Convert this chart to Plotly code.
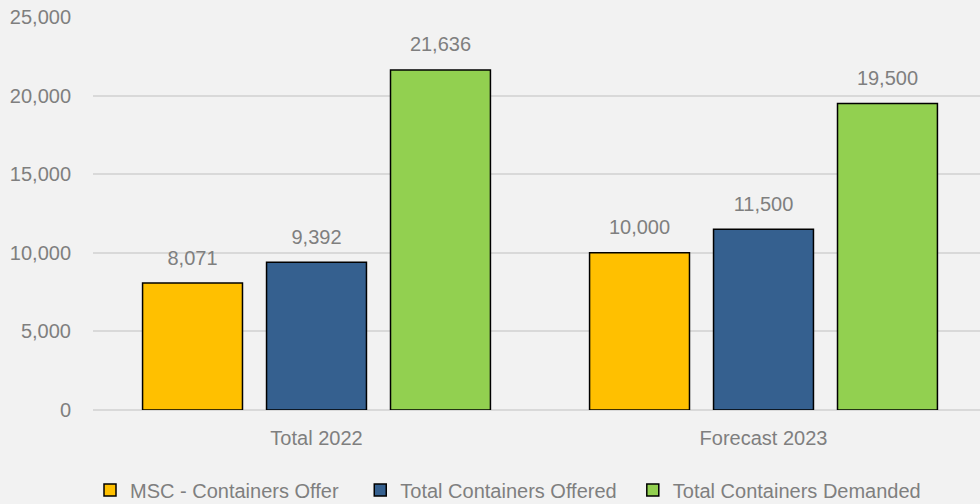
import plotly.graph_objects as go

categories = ["Total 2022", "Forecast 2023"]
series_names = ["MSC - Containers Offer", "Total Containers Offered", "Total Containers Demanded"]
msc_offer = [8071, 10000]
total_offered = [9392, 11500]
total_demanded = [21636, 19500]
colors = ["#FFC000", "#35608F", "#92D050"]

FONT = "Liberation Sans Narrow, Arial Narrow, Liberation Sans, Arial, sans-serif"
GRAY = "#7F7F7F"
PADS = ["\u00a0" * 3, "\u00a0" * 2, ""]

fig = go.Figure()
for i, (name, vals, col) in enumerate(zip(series_names, [msc_offer, total_offered, total_demanded], colors)):
    fig.add_trace(go.Bar(
        x=categories, y=vals, name=name + PADS[i], offsetgroup=str(i),
        marker=dict(color=col, line=dict(color="#000000", width=1.5)),
        hoverinfo="skip",
    ))
for i, vals in enumerate([msc_offer, total_offered, total_demanded]):
    fig.add_trace(go.Scatter(
        x=categories, y=vals, offsetgroup=str(i), mode="markers+text",
        marker=dict(size=20, opacity=0), text=[f"{v:,}" for v in vals],
        textposition="top center", textfont=dict(family=FONT, size=20, color=GRAY),
        showlegend=False, cliponaxis=False, hoverinfo="skip",
    ))

W = 987
fig.update_layout(
    width=W, height=504,
    paper_bgcolor="#F2F2F2", plot_bgcolor="#F2F2F2",
    margin=dict(l=93, r=0, t=17, b=94),
    barmode="group", bargap=0.168, bargroupgap=0.194,
    scattermode="group", scattergap=0.168,
    font=dict(family=FONT, size=20, color=GRAY),
    showlegend=True,
    legend=dict(orientation="h", xref="container", yref="container",
                x=90 / W, xanchor="left", y=0.028, yanchor="middle",
                font=dict(family=FONT, size=20, color=GRAY), itemwidth=30,
                traceorder="normal"),
    yaxis=dict(range=[0, 25000], dtick=5000, tickformat=",", showgrid=True,
               gridcolor="#D9D9D9", gridwidth=1.5, zeroline=True, zerolinecolor="#D9D9D9",
               zerolinewidth=1.5, ticks="", ticklabelstandoff=21, automargin=False,
               tickfont=dict(family=FONT, size=20, color=GRAY)),
    xaxis=dict(showline=False, ticks="", automargin=False, ticklabelstandoff=14,
               tickfont=dict(family=FONT, size=20, color=GRAY)),
)

fig.write_html("out.html", config={"displayModeBar": False},
               post_script="document.body.style.margin='0';document.body.style.overflow='hidden';")
